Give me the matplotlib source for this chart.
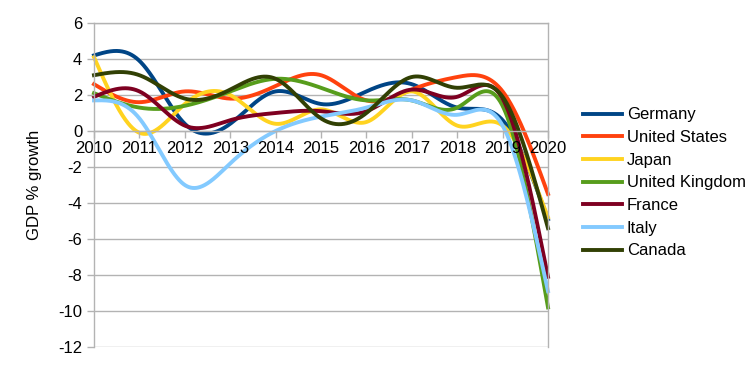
import numpy as np
import matplotlib
matplotlib.use('Agg')
import matplotlib.pyplot as plt

# GDP growth, % per year, G7 countries
years = [2010, 2011, 2012, 2013, 2014, 2015, 2016, 2017, 2018, 2019, 2020]
germany = [4.2, 3.9, 0.4, 0.4, 2.2, 1.5, 2.2, 2.6, 1.3, 0.6, -4.9]
united_states = [2.6, 1.6, 2.2, 1.8, 2.5, 3.1, 1.7, 2.3, 3.0, 2.2, -3.5]
japan = [4.1, -0.1, 1.5, 2.0, 0.4, 1.2, 0.5, 2.2, 0.3, 0.3, -4.8]
united_kingdom = [2.1, 1.3, 1.4, 2.2, 2.9, 2.4, 1.7, 1.7, 1.3, 1.4, -9.8]
france = [1.9, 2.2, 0.3, 0.6, 1.0, 1.1, 1.1, 2.3, 1.9, 1.8, -8.1]
italy = [1.7, 0.7, -3.0, -1.8, 0.0, 0.8, 1.3, 1.7, 0.9, 0.3, -8.9]
canada = [3.1, 3.1, 1.8, 2.3, 2.9, 0.7, 1.0, 3.0, 2.4, 1.9, -5.4]

series = [
    ('Germany', germany, '#004586'),
    ('United States', united_states, '#ff420e'),
    ('Japan', japan, '#ffd320'),
    ('United Kingdom', united_kingdom, '#579d1c'),
    ('France', france, '#7e0021'),
    ('Italy', italy, '#83caff'),
    ('Canada', canada, '#314004'),
]

plt.rcParams['font.family'] = ['Liberation Sans', 'DejaVu Sans']
plt.rcParams['font.size'] = 12
plt.rcParams['axes.unicode_minus'] = False


def natural_spline(t, v, tt):
    # natural cubic spline through (t, v), evaluated at tt
    n = len(t)
    h = np.diff(t)
    A = np.zeros((n, n))
    r = np.zeros(n)
    A[0, 0] = 1
    A[-1, -1] = 1
    for i in range(1, n - 1):
        A[i, i - 1] = h[i - 1]
        A[i, i] = 2 * (h[i - 1] + h[i])
        A[i, i + 1] = h[i]
        r[i] = 6 * ((v[i + 1] - v[i]) / h[i] - (v[i] - v[i - 1]) / h[i - 1])
    M = np.linalg.solve(A, r)
    k = np.clip(np.searchsorted(t, tt) - 1, 0, n - 2)
    a = t[k + 1] - tt
    b = tt - t[k]
    hk = h[k]
    return (M[k] * a ** 3 / (6 * hk) + M[k + 1] * b ** 3 / (6 * hk)
            + (v[k] / hk - M[k] * hk / 6) * a + (v[k + 1] / hk - M[k + 1] * hk / 6) * b)


fig = plt.figure(figsize=(7.54, 3.65), dpi=100)
ax = fig.add_axes([94 / 754, 18 / 365, 454 / 754, 324 / 365])
ax.set_xlim(2010, 2020)
ax.set_ylim(-12, 6)

grid_col = '#b3b3b3'
for s in ax.spines.values():
    s.set_color(grid_col)
    s.set_linewidth(1)
ax.spines['bottom'].set_position(('data', 0))
yticks = np.arange(-12, 7, 2)
ax.set_yticks(yticks)
ax.set_xticks(years)
# grid under the lines, tick labels above them
for yv in yticks:
    ax.axhline(yv, color=grid_col, linewidth=1, zorder=0.5)
ax.set_axisbelow(False)
ax.tick_params(axis='both', color=grid_col, length=5, width=1, labelsize=12)
ax.tick_params(axis='x', pad=2)

# smoothed lines (cubic spline through the yearly points)
x = np.array(years, float)
xs = np.linspace(x[0], x[-1], 1000)
for name, values, col in series:
    ys = natural_spline(x, np.array(values, float), xs)
    ax.plot(xs, ys, color=col, linewidth=2.8, label=name, clip_on=False, zorder=2)

ax.set_ylabel('GDP % growth')
ax.yaxis.set_label_coords(-0.115, 0.5)

fig.legend(loc='center left', bbox_to_anchor=(583 / 754, 0.499), frameon=False,
           borderpad=0, borderaxespad=0, handlelength=2.33, handletextpad=0.3,
           labelspacing=0.46, fontsize=12)

fig.savefig('out.png', dpi=100)
